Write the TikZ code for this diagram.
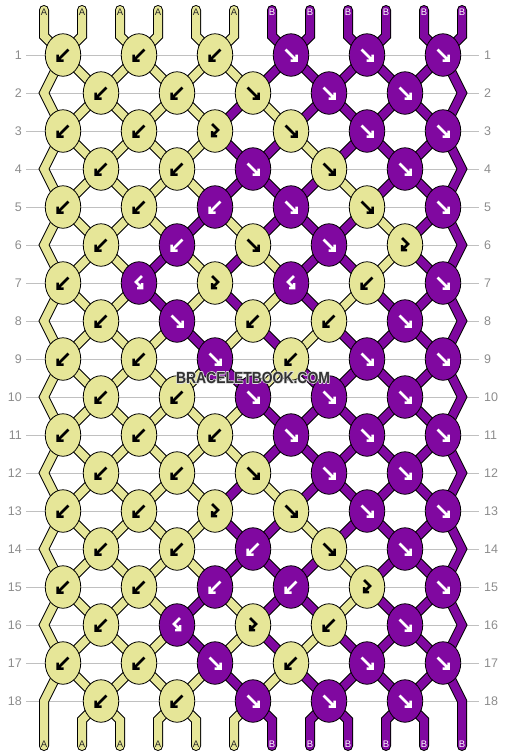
\documentclass[tikz,border=0pt]{standalone}
\usepackage{fontspec}
\setmainfont{Liberation Sans}
\usetikzlibrary{shapes.geometric}

\definecolor{strA}{RGB}{230,230,152}
\definecolor{strB}{RGB}{128,8,160}
\definecolor{gridgray}{RGB}{192,192,192}
\definecolor{numgray}{RGB}{140,140,140}
\definecolor{markgray}{RGB}{50,50,50}
\def\arrcol{black}
\newcommand\rimtext[1]{\rlap{\special{pdf:literal direct 0.88 0.88 0.88 RG 1.6 w 1 j 1 Tr}#1\special{pdf:literal direct 0 Tr}}#1}

\pgfdeclarelayer{grid}
\pgfdeclarelayer{strands}
\pgfsetlayers{grid,strands,main}

\tikzset{
  knot/.style={ellipse, draw=black, line width=0.8pt, minimum width=35.5pt, minimum height=42.5pt, inner sep=0pt},
  knY/.style={fill=strA, /utils/exec={\def\arrcol{black}}},
  knP/.style={fill=strB, /utils/exec={\def\arrcol{white}}},
  knarrow/.style={draw=\arrcol, line width=2.5pt, shift={(path picture bounding box.center)}},
  fw/.style={path picture={\draw[knarrow] (-5.5,-5.5) -- (5.5,5.5) (5.5,-0.5) -- (5.5,5.5) -- (-0.5,5.5);}},
  bw/.style={path picture={\draw[knarrow] (5.5,-5.5) -- (-5.5,5.5) (-5.5,-0.5) -- (-5.5,5.5) -- (0.5,5.5);}},
  fwbw/.style={path picture={\draw[knarrow] (-3,-7) -- (3,-1) -- (-3,5) (-3,0) -- (-3,5) -- (2,5);}},
  bwfw/.style={path picture={\draw[knarrow] (3,-7) -- (-3,-1) -- (3,5) (3,0) -- (3,5) -- (-2,5);}},
  strand/.style={color=str#1},
  outline/.style={draw=black, line width=10pt},
  fillin/.style={line width=8pt},
  rownum/.style={text=numgray, inner sep=0pt, font=\fontsize{12.5}{14}\selectfont},
  gridline/.style={gridgray, line width=1pt},
  endlbl/.style={inner sep=0pt, font=\fontsize{9.5}{11}\selectfont},
  lblA/.style={text=black!85},
  lblB/.style={text=white},
  watermark/.style={text=markgray, font=\bfseries\fontsize{16}{18}\selectfont},
}

\begin{document}
\begin{tikzpicture}[x=1pt, y=-1pt]
  \useasboundingbox (0,0) rectangle (506,756);
  \def\dy{38}

  \foreach \p in {1,...,12} {
    \coordinate (top\p) at (6+38*\p, 10);
    \coordinate (tb\p) at (6+38*\p, 36);
    \coordinate (bb\p) at (6+38*\p, 720);
    \coordinate (bot\p) at (6+38*\p, 746);
  }
  \foreach \r in {2,4,...,18} {
    \coordinate (l\r) at (44, 17+\dy*\r);
    \coordinate (e\r) at (462, 17+\dy*\r);
  }

  % row numbers and lines
  \foreach \r in {1,...,18} {
    \node[rownum, anchor=east] (nl\r) at (22, 17+\dy*\r) {\r};
    \node[rownum, anchor=west] (nr\r) at (484, 17+\dy*\r) {\r};
    \begin{pgfonlayer}{grid}
      \draw[gridline, shorten <=4pt, shorten >=5pt] (nl\r.east) -- (nr\r.west);
    \end{pgfonlayer}
  }

  % knots
  \foreach \r/\ks in {
    1/{bw/Y,bw/Y,bw/Y,fw/P,fw/P,fw/P},
    2/{bw/Y,bw/Y,fw/Y,fw/P,fw/P},
    3/{bw/Y,bw/Y,fwbw/Y,fw/Y,fw/P,fw/P},
    4/{bw/Y,bw/Y,fw/P,fw/Y,fw/P},
    5/{bw/Y,bw/Y,bw/P,fw/P,fw/Y,fw/P},
    6/{bw/Y,bw/P,fw/Y,fw/P,fwbw/Y},
    7/{bw/Y,bwfw/P,fwbw/Y,bwfw/P,bw/Y,fw/P},
    8/{bw/Y,fw/P,bw/Y,bw/Y,fw/P},
    9/{bw/Y,bw/Y,fw/P,bw/Y,fw/P,fw/P},
    10/{bw/Y,bw/Y,fw/P,fw/P,fw/P},
    11/{bw/Y,bw/Y,bw/Y,fw/P,fw/P,fw/P},
    12/{bw/Y,bw/Y,fw/Y,fw/P,fw/P},
    13/{bw/Y,bw/Y,fwbw/Y,fw/Y,fw/P,fw/P},
    14/{bw/Y,bw/Y,bw/P,fw/Y,fw/P},
    15/{bw/Y,bw/Y,bw/P,bw/P,fwbw/Y,fw/P},
    16/{bw/Y,bwfw/P,fwbw/Y,bw/Y,fw/P},
    17/{bw/Y,bw/Y,fw/P,bw/Y,fw/P,fw/P},
    18/{bw/Y,bw/Y,fw/P,fw/P,fw/P}} {
    \foreach \t/\c [count=\n] in \ks {
      \ifodd\r\relax \pgfmathsetmacro\kx{-13+76*\n} \else \pgfmathsetmacro\kx{25+76*\n} \fi
      \node[knot, kn\c, \t] (k\r-\n) at (\kx, 17+\dy*\r) {};
    }
  }

  \begin{pgfonlayer}{strands}
  \foreach \pass in {outline,fillin} {
    \foreach \s [count=\p] in {A,A,A,A,A,A,B,B,B,B,B,B} {
      \pgfmathtruncatemacro\cb{(\p+1)/2}
      \draw[strand=\s, \pass, line cap=round] (top\p) -- (tb\p) -- (k1-\cb.center);
    }
    \foreach \r/\lst in {
      1/{A,A,A,A,A,A,B,B,B,B,B,B},
      2/{A,A,A,A,A,B,A,B,B,B,B,B},
      3/{A,A,A,A,A,B,B,A,B,B,B,B},
      4/{A,A,A,A,A,B,B,B,A,B,B,B},
      5/{A,A,A,A,B,A,B,B,B,A,B,B},
      6/{A,A,A,B,A,B,A,B,B,A,B,B},
      7/{A,A,A,B,A,B,A,B,A,B,B,B},
      8/{A,A,A,A,B,A,B,A,B,B,B,B},
      9/{A,A,A,A,A,B,A,B,B,B,B,B},
      10/{A,A,A,A,A,A,B,B,B,B,B,B},
      11/{A,A,A,A,A,A,B,B,B,B,B,B},
      12/{A,A,A,A,A,B,A,B,B,B,B,B},
      13/{A,A,A,A,A,B,B,A,B,B,B,B},
      14/{A,A,A,A,A,B,B,B,A,B,B,B},
      15/{A,A,A,A,B,A,B,B,A,B,B,B},
      16/{A,A,A,A,B,A,B,A,B,B,B,B},
      17/{A,A,A,A,A,B,A,B,B,B,B,B}} {
      \pgfmathtruncatemacro\rn{\r+1}
      \foreach \s [count=\p] in \lst {
        \ifnum\p>1\relax\ifnum\p<12\relax
          \ifodd\r\relax
            \pgfmathtruncatemacro\ca{(\p+1)/2}\pgfmathtruncatemacro\cb{\p/2}
          \else
            \pgfmathtruncatemacro\ca{\p/2}\pgfmathtruncatemacro\cb{(\p+1)/2}
          \fi
          \draw[strand=\s, \pass] (k\r-\ca.center) -- (k\rn-\cb.center);
        \fi\fi
      }
    }
    \foreach \r in {2,4,...,16} {
      \pgfmathtruncatemacro\ra{\r-1}\pgfmathtruncatemacro\rb{\r+1}
      \draw[strand=A, \pass] (k\ra-1.center) -- (l\r) -- (k\rb-1.center);
      \draw[strand=B, \pass] (k\ra-6.center) -- (e\r) -- (k\rb-6.center);
    }
    \draw[strand=A, \pass, line cap=round] (k17-1.center) -- (l18) -- (bot1);
    \draw[strand=B, \pass, line cap=round] (k17-6.center) -- (e18) -- (bot12);
    \foreach \s [count=\p] in {A,A,A,A,A,A,B,B,B,B,B,B} {
      \ifnum\p>1\relax\ifnum\p<12\relax
        \pgfmathtruncatemacro\ca{\p/2}
        \draw[strand=\s, \pass, line cap=round] (k18-\ca.center) -- (bb\p) -- (bot\p);
      \fi\fi
    }
  }
  \end{pgfonlayer}

  % string ends
  \foreach \s [count=\p] in {A,A,A,A,A,A,B,B,B,B,B,B} {
    \node[endlbl, lbl\s] (lt\p) at (6+38*\p, 12) {\s};
    \node[endlbl, lbl\s] (lb\p) at (6+38*\p, 744.5) {\s};
  }

  \node[watermark] (wm) at (253, 377.5) {\scalebox{0.87}[1]{\rimtext{BRACELETBOOK.COM}}};
\end{tikzpicture}
\end{document}
